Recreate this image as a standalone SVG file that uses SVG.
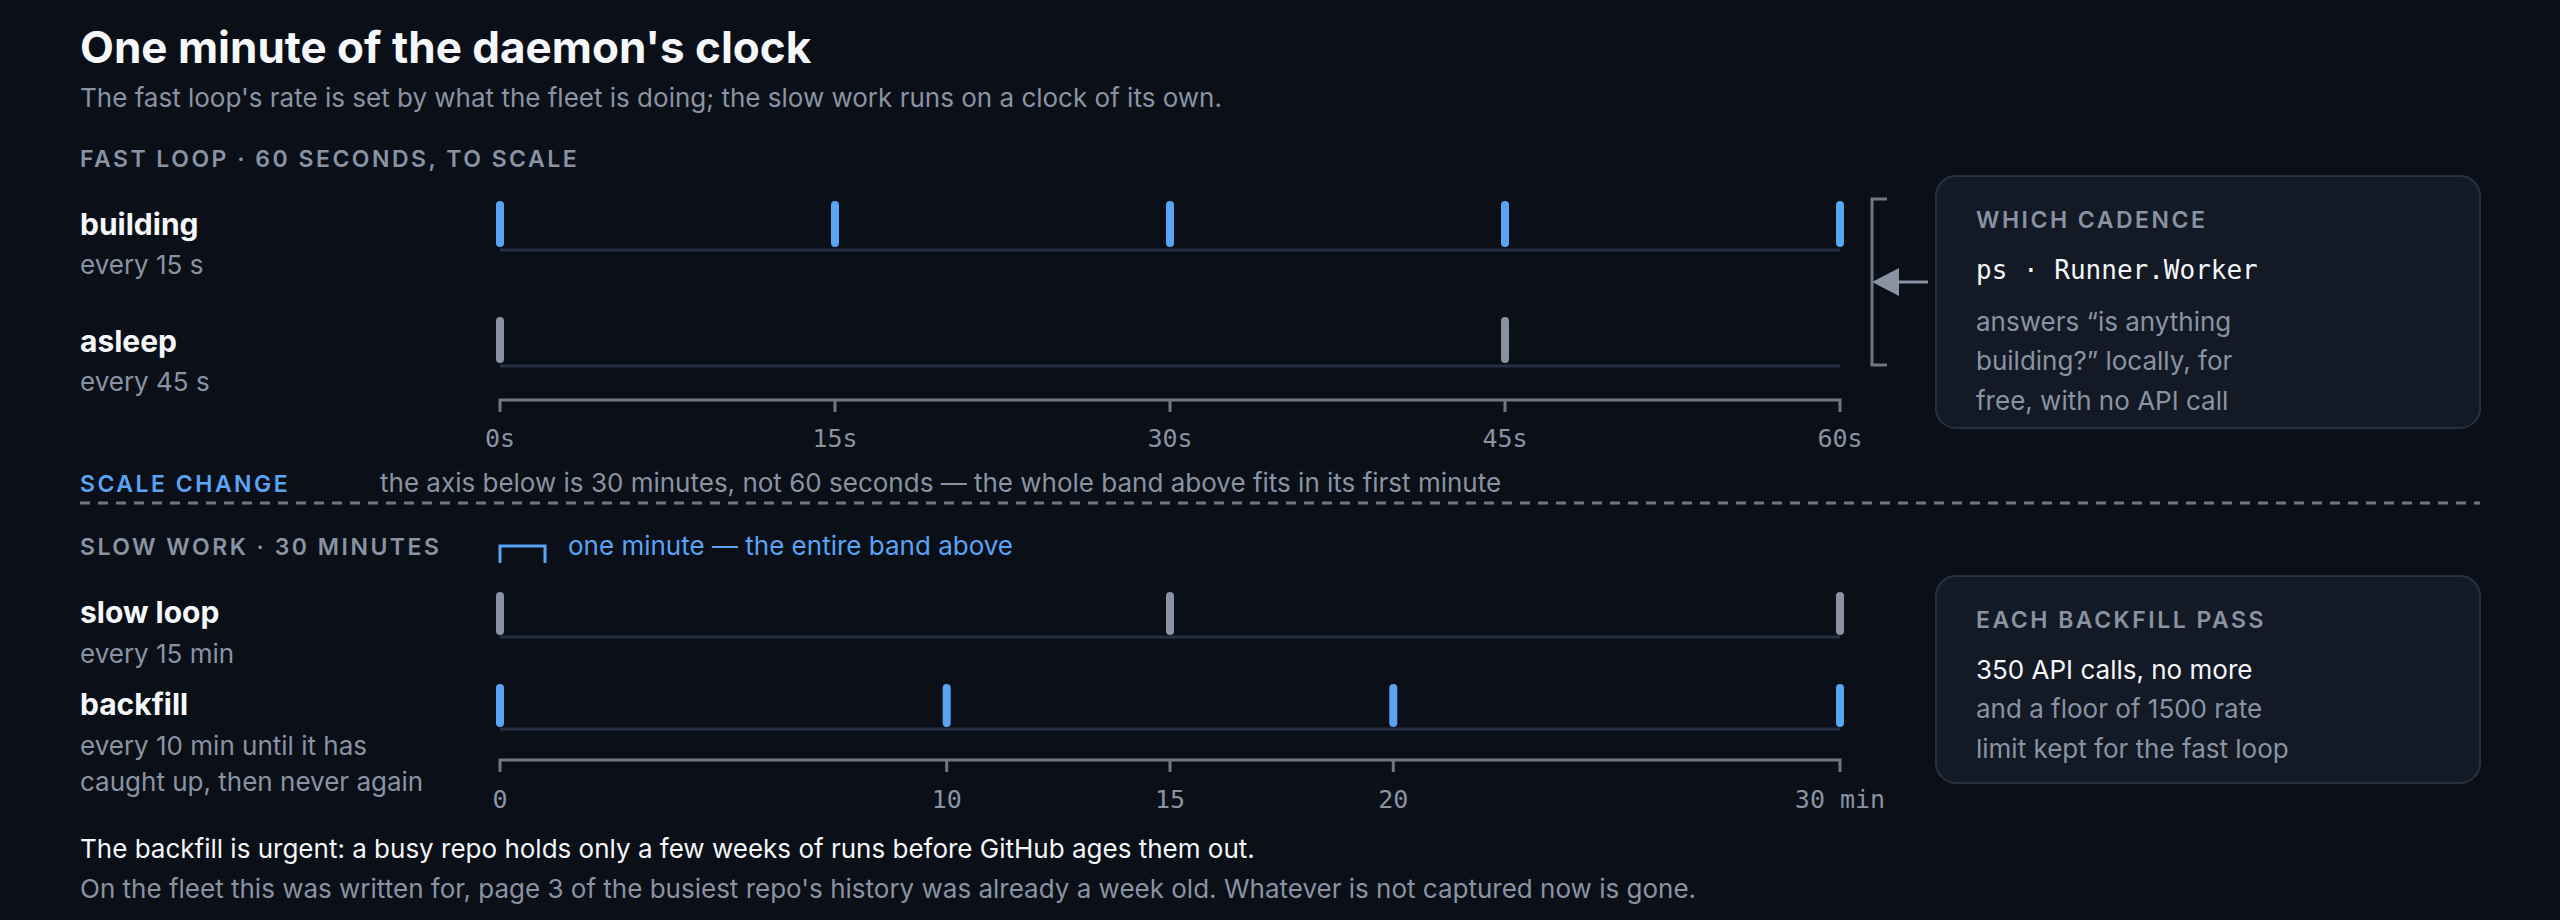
<svg xmlns="http://www.w3.org/2000/svg" width="2560" height="920" viewBox="0 0 2560 920">
<defs>
<style>
.sans{font-family:Inter,"Liberation Sans",sans-serif}
.mono{font-family:"DejaVu Sans Mono","Liberation Mono",monospace}
.title{font-size:44px;font-weight:700;fill:#f5f7fa}
.sub{font-size:26px;fill:#8a93a3}
.head{font-size:23px;font-weight:600;letter-spacing:2.5px;fill:#8a93a3}
.lbl{font-size:30px;font-weight:700;fill:#f5f7fa}
.note{font-size:26px;fill:#8a93a3}
.wh{font-size:26px;font-weight:400;fill:#f5f7fa}
.axl{font-size:25px;fill:#8a93a3;text-anchor:middle}
.track{stroke:#263042;stroke-width:3}
.tb{stroke:#5aa4f5;stroke-width:8;stroke-linecap:round}
.tg{stroke:#8a93a3;stroke-width:8;stroke-linecap:round}
.axis{stroke:#6f7785;stroke-width:3;fill:none}
.box{fill:#131a25;stroke:#283142;stroke-width:2}
</style>
</defs>
<rect x="0" y="0" width="2560" height="920" fill="#0b0f17"/>

<g id="header">
<text class="sans title" x="80" y="63">One minute of the daemon's clock</text>
<text class="sans sub" x="80" y="107">The fast loop's rate is set by what the fleet is doing; the slow work runs on a clock of its own.</text>
<text class="sans head" x="80" y="167">FAST LOOP · 60 SECONDS, TO SCALE</text>
</g>

<g id="row-building">
<text class="sans lbl" x="80" y="235">building</text>
<text class="sans note" x="80" y="274">every 15 s</text>
<line class="track" x1="500" y1="250" x2="1840" y2="250"/>
<line class="tb" x1="500" y1="205" x2="500" y2="243"/>
<line class="tb" x1="835" y1="205" x2="835" y2="243"/>
<line class="tb" x1="1170" y1="205" x2="1170" y2="243"/>
<line class="tb" x1="1505" y1="205" x2="1505" y2="243"/>
<line class="tb" x1="1840" y1="205" x2="1840" y2="243"/>
</g>

<g id="row-asleep">
<text class="sans lbl" x="80" y="352">asleep</text>
<text class="sans note" x="80" y="391">every 45 s</text>
<line class="track" x1="500" y1="366" x2="1840" y2="366"/>
<line class="tg" x1="500" y1="321" x2="500" y2="359"/>
<line class="tg" x1="1505" y1="321" x2="1505" y2="359"/>
</g>

<g id="axis-fast">
<path class="axis" d="M500,412 V400 H1840 V412 M835,400 V412 M1170,400 V412 M1505,400 V412"/>
<text class="mono axl" x="500" y="447">0s</text>
<text class="mono axl" x="835" y="447">15s</text>
<text class="mono axl" x="1170" y="447">30s</text>
<text class="mono axl" x="1505" y="447">45s</text>
<text class="mono axl" x="1840" y="447">60s</text>
</g>

<g id="bracket">
<path d="M1887,199 H1872 V365 H1887" fill="none" stroke="#6f7785" stroke-width="3"/>
</g>

<g id="box-cadence">
<rect class="box" x="1936" y="176" width="544" height="252" rx="20"/>
<text class="sans head" x="1976" y="228">WHICH CADENCE</text>
<text class="mono" x="1976" y="279" font-size="26" fill="#f5f7fa">ps · Runner.Worker</text>
<text class="sans note" x="1976" y="331">answers “is anything</text>
<text class="sans note" x="1976" y="370">building?” locally, for</text>
<text class="sans note" x="1976" y="410">free, with no API call</text>
</g>

<g id="connectors">
<line x1="1928" y1="282" x2="1882" y2="282" stroke="#8a93a3" stroke-width="3"/>
<path d="M1872,282 L1899,268 L1899,296 Z" fill="#8a93a3"/>
</g>

<g id="scale-change">
<text class="sans head" x="80" y="492" style="fill:#5aa4f5">SCALE CHANGE</text>
<text class="sans note" x="380" y="492">the axis below is 30 minutes, not 60 seconds — the whole band above fits in its first minute</text>
<line x1="80" y1="503" x2="2480" y2="503" stroke="#6f7785" stroke-width="3" stroke-dasharray="10 8"/>
</g>

<g id="slow-header">
<text class="sans head" x="80" y="555">SLOW WORK · 30 MINUTES</text>
<path d="M500,563 V546 H545 V563" fill="none" stroke="#5aa4f5" stroke-width="3"/>
<text class="sans note" x="568" y="555" style="fill:#5aa4f5">one minute — the entire band above</text>
</g>

<g id="row-slowloop">
<text class="sans lbl" x="80" y="623">slow loop</text>
<text class="sans note" x="80" y="663">every 15 min</text>
<line class="track" x1="500" y1="637" x2="1840" y2="637"/>
<line class="tg" x1="500" y1="596" x2="500" y2="631"/>
<line class="tg" x1="1170" y1="596" x2="1170" y2="631"/>
<line class="tg" x1="1840" y1="596" x2="1840" y2="631"/>
</g>

<g id="row-backfill">
<text class="sans lbl" x="80" y="715">backfill</text>
<text class="sans note" x="80" y="755">every 10 min until it has</text>
<text class="sans note" x="80" y="791">caught up, then never again</text>
<line class="track" x1="500" y1="729" x2="1840" y2="729"/>
<line class="tb" x1="500" y1="688" x2="500" y2="723"/>
<line class="tb" x1="946.7" y1="688" x2="946.7" y2="723"/>
<line class="tb" x1="1393.3" y1="688" x2="1393.3" y2="723"/>
<line class="tb" x1="1840" y1="688" x2="1840" y2="723"/>
</g>

<g id="axis-slow">
<path class="axis" d="M500,772 V760 H1840 V772 M946.7,760 V772 M1170,760 V772 M1393.3,760 V772"/>
<text class="mono axl" x="500" y="808">0</text>
<text class="mono axl" x="946.7" y="808">10</text>
<text class="mono axl" x="1170" y="808">15</text>
<text class="mono axl" x="1393.3" y="808">20</text>
<text class="mono axl" x="1840" y="808">30 min</text>
</g>

<g id="box-backfill">
<rect class="box" x="1936" y="576" width="544" height="207" rx="20"/>
<text class="sans head" x="1976" y="628">EACH BACKFILL PASS</text>
<text class="sans wh" x="1976" y="679">350 API calls, no more</text>
<text class="sans note" x="1976" y="718">and a floor of 1500 rate</text>
<text class="sans note" x="1976" y="758">limit kept for the fast loop</text>
</g>

<g id="footer">
<text class="sans wh" x="80" y="858">The backfill is urgent: a busy repo holds only a few weeks of runs before GitHub ages them out.</text>
<text class="sans note" x="80" y="898">On the fleet this was written for, page 3 of the busiest repo's history was already a week old. Whatever is not captured now is gone.</text>
</g>
</svg>
